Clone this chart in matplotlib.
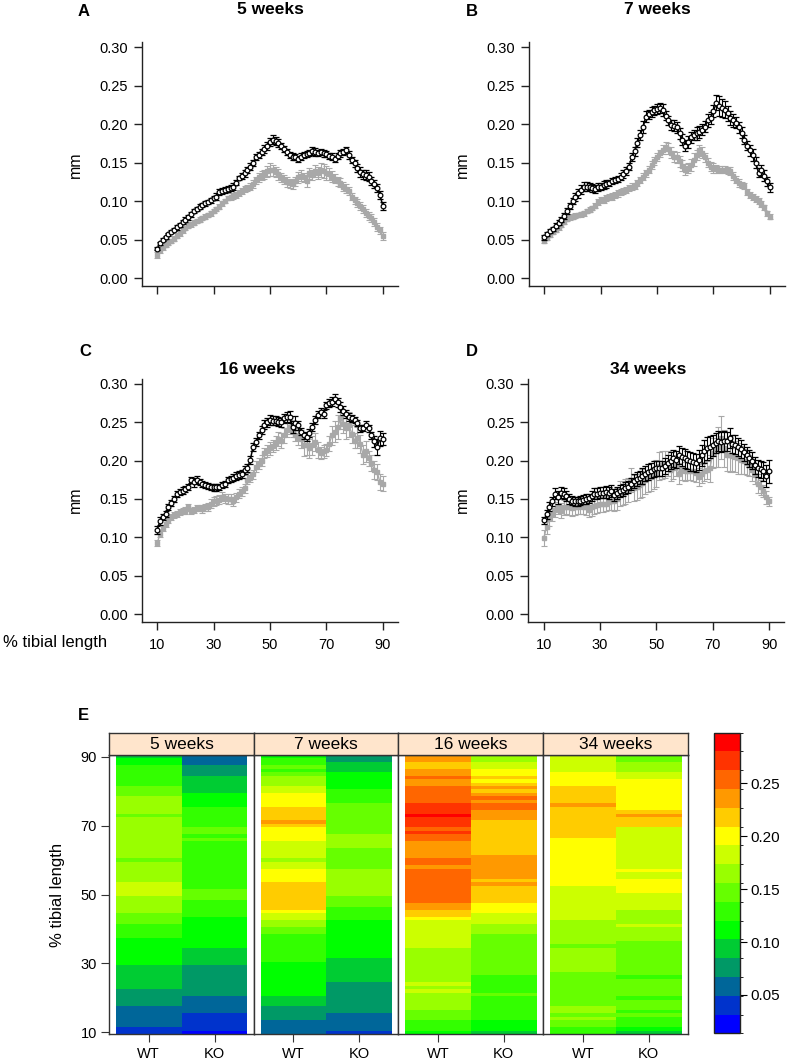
import numpy as np
import matplotlib
matplotlib.use("Agg")
import matplotlib.pyplot as plt
from matplotlib.colors import ListedColormap, BoundaryNorm

plt.rcParams['font.family'] = ['Liberation Sans', 'DejaVu Sans']

# ---- data: mean cortical thickness (mm) at 10..90 % tibial length ----
pct = np.arange(10, 91)
ages = ["5 weeks", "7 weeks", "16 weeks", "34 weeks"]
letters = ["A", "B", "C", "D"]
genotypes = ["WT", "KO"]

wt_5wk = [0.038,0.045,0.050,0.053,0.057,0.060,0.063,0.066,0.069,0.073,
          0.076,0.079,0.083,0.087,0.090,0.093,0.095,0.097,0.099,0.101,
          0.104,0.106,0.112,0.113,0.115,0.116,0.117,0.119,0.124,0.130,
          0.133,0.136,0.140,0.145,0.150,0.157,0.160,0.164,0.168,0.172,
          0.177,0.180,0.178,0.176,0.172,0.168,0.164,0.160,0.158,0.157,
          0.155,0.158,0.160,0.161,0.163,0.165,0.164,0.163,0.164,0.162,
          0.161,0.159,0.158,0.155,0.159,0.162,0.164,0.166,0.160,0.154,
          0.149,0.143,0.138,0.135,0.134,0.132,0.126,0.122,0.117,0.108,
          0.094]
ko_5wk = [0.030,0.036,0.040,0.043,0.046,0.048,0.051,0.055,0.058,0.062,
          0.065,0.068,0.070,0.072,0.074,0.076,0.078,0.080,0.082,0.084,
          0.087,0.090,0.093,0.097,0.100,0.104,0.106,0.107,0.108,0.111,
          0.113,0.116,0.117,0.119,0.122,0.127,0.131,0.133,0.135,0.139,
          0.141,0.140,0.138,0.135,0.131,0.128,0.125,0.123,0.122,0.126,
          0.131,0.133,0.131,0.126,0.136,0.134,0.139,0.137,0.141,0.139,
          0.137,0.135,0.132,0.129,0.126,0.124,0.119,0.116,0.113,0.106,
          0.101,0.098,0.094,0.090,0.085,0.081,0.078,0.073,0.066,0.062,
          0.055]
wt_7wk = [0.053,0.057,0.061,0.064,0.068,0.072,0.076,0.081,0.087,0.094,
          0.100,0.105,0.110,0.115,0.119,0.119,0.119,0.117,0.116,0.118,
          0.119,0.121,0.122,0.124,0.126,0.128,0.129,0.132,0.135,0.139,
          0.145,0.157,0.165,0.176,0.186,0.196,0.210,0.213,0.216,0.218,
          0.220,0.221,0.219,0.211,0.205,0.199,0.198,0.196,0.188,0.180,
          0.172,0.177,0.183,0.186,0.188,0.190,0.193,0.197,0.205,0.208,
          0.217,0.228,0.224,0.221,0.219,0.214,0.208,0.205,0.202,0.196,
          0.189,0.180,0.172,0.166,0.160,0.150,0.137,0.140,0.133,0.126,
          0.118]
ko_7wk = [0.048,0.052,0.056,0.060,0.063,0.066,0.069,0.073,0.077,0.079,
          0.080,0.081,0.082,0.083,0.084,0.087,0.089,0.091,0.094,0.099,
          0.101,0.102,0.104,0.105,0.106,0.108,0.110,0.112,0.113,0.115,
          0.117,0.119,0.120,0.124,0.128,0.132,0.136,0.141,0.147,0.152,
          0.157,0.162,0.167,0.171,0.168,0.163,0.158,0.157,0.152,0.146,
          0.141,0.143,0.147,0.154,0.160,0.166,0.163,0.157,0.150,0.145,
          0.143,0.142,0.141,0.141,0.141,0.140,0.139,0.133,0.128,0.124,
          0.121,0.120,0.112,0.108,0.105,0.103,0.100,0.096,0.092,0.084,
          0.080]
wt_16wk = [0.110,0.121,0.126,0.131,0.140,0.145,0.150,0.157,0.159,0.161,
           0.163,0.166,0.175,0.172,0.175,0.172,0.170,0.168,0.167,0.166,
           0.165,0.165,0.166,0.168,0.170,0.175,0.176,0.178,0.180,0.181,
           0.183,0.188,0.190,0.201,0.218,0.224,0.233,0.240,0.247,0.250,
           0.253,0.252,0.252,0.251,0.250,0.255,0.257,0.257,0.244,0.249,
           0.246,0.238,0.233,0.231,0.236,0.244,0.253,0.260,0.264,0.261,
           0.272,0.275,0.277,0.281,0.276,0.270,0.265,0.261,0.257,0.255,
           0.253,0.249,0.242,0.243,0.247,0.242,0.233,0.225,0.218,0.229,
           0.228]
ko_16wk = [0.093,0.104,0.112,0.118,0.123,0.127,0.129,0.131,0.133,0.134,
           0.135,0.139,0.134,0.136,0.138,0.138,0.137,0.139,0.140,0.144,
           0.147,0.148,0.149,0.153,0.151,0.150,0.150,0.147,0.152,0.157,
           0.160,0.164,0.175,0.178,0.182,0.192,0.196,0.200,0.210,0.213,
           0.216,0.219,0.223,0.228,0.226,0.233,0.240,0.244,0.240,0.234,
           0.230,0.228,0.220,0.220,0.216,0.220,0.224,0.214,0.210,0.212,
           0.214,0.222,0.233,0.238,0.244,0.255,0.248,0.242,0.247,0.235,
           0.226,0.230,0.222,0.208,0.212,0.203,0.197,0.188,0.185,0.172,
           0.170]
wt_34wk = [0.122,0.130,0.140,0.147,0.157,0.152,0.158,0.157,0.154,0.150,
           0.148,0.147,0.147,0.148,0.149,0.150,0.151,0.154,0.157,0.157,
           0.158,0.158,0.159,0.158,0.160,0.155,0.158,0.160,0.162,0.164,
           0.166,0.170,0.173,0.176,0.178,0.180,0.183,0.185,0.187,0.189,
           0.190,0.190,0.190,0.193,0.197,0.200,0.203,0.201,0.207,0.205,
           0.203,0.201,0.199,0.198,0.197,0.201,0.207,0.212,0.216,0.218,
           0.220,0.223,0.226,0.224,0.226,0.225,0.229,0.222,0.221,0.218,
           0.215,0.211,0.207,0.203,0.200,0.194,0.190,0.189,0.186,0.180,
           0.186]
ko_34wk = [0.099,0.114,0.125,0.131,0.136,0.140,0.135,0.139,0.140,0.139,
           0.138,0.139,0.140,0.141,0.140,0.139,0.136,0.140,0.141,0.142,
           0.143,0.143,0.144,0.146,0.148,0.147,0.150,0.157,0.158,0.160,
           0.162,0.175,0.164,0.166,0.168,0.171,0.175,0.177,0.179,0.181,
           0.183,0.193,0.194,0.195,0.196,0.188,0.190,0.194,0.183,0.189,
           0.186,0.187,0.187,0.186,0.184,0.179,0.183,0.186,0.188,0.190,
           0.210,0.214,0.218,0.230,0.216,0.208,0.207,0.206,0.205,0.203,
           0.201,0.199,0.197,0.194,0.188,0.181,0.170,0.165,0.160,0.152,
           0.147]

# standard errors (mm)
sem_wt_5 = [0.002,0.002,0.002,0.002,0.002,0.002,0.002,0.003,0.003,0.003,
            0.003,0.003,0.003,0.003,0.003,0.003,0.003,0.003,0.003,0.003,
            0.003,0.004,0.004,0.004,0.004,0.004,0.004,0.004,0.003,0.003,
            0.004,0.004,0.004,0.004,0.004,0.004,0.004,0.004,0.005,0.005,
            0.005,0.006,0.005,0.005,0.004,0.004,0.004,0.004,0.004,0.004,
            0.004,0.004,0.004,0.004,0.004,0.005,0.005,0.004,0.004,0.004,
            0.004,0.004,0.004,0.004,0.004,0.004,0.004,0.005,0.005,0.004,
            0.004,0.005,0.006,0.006,0.006,0.006,0.005,0.005,0.005,0.005,
            0.005]
sem_ko_5 = [0.004,0.003,0.003,0.003,0.003,0.003,0.003,0.003,0.003,0.003,
            0.003,0.003,0.003,0.003,0.003,0.003,0.003,0.003,0.003,0.003,
            0.003,0.003,0.003,0.003,0.003,0.003,0.004,0.004,0.004,0.004,
            0.004,0.004,0.004,0.004,0.005,0.005,0.006,0.006,0.006,0.007,
            0.008,0.007,0.007,0.007,0.006,0.006,0.006,0.006,0.006,0.006,
            0.007,0.007,0.006,0.008,0.007,0.007,0.008,0.008,0.009,0.009,
            0.009,0.008,0.007,0.006,0.006,0.006,0.006,0.006,0.005,0.005,
            0.005,0.005,0.005,0.005,0.005,0.005,0.005,0.005,0.005,0.005,
            0.005]
sem_wt_7 = [0.003,0.003,0.003,0.003,0.003,0.003,0.003,0.004,0.004,0.004,
            0.004,0.005,0.006,0.006,0.006,0.006,0.005,0.005,0.005,0.005,
            0.005,0.005,0.005,0.004,0.004,0.004,0.004,0.005,0.005,0.005,
            0.005,0.005,0.006,0.006,0.007,0.008,0.007,0.006,0.006,0.006,
            0.007,0.007,0.008,0.006,0.006,0.007,0.007,0.007,0.007,0.007,
            0.007,0.008,0.007,0.007,0.008,0.008,0.007,0.007,0.008,0.008,
            0.008,0.010,0.013,0.012,0.011,0.010,0.009,0.008,0.007,0.007,
            0.007,0.006,0.006,0.007,0.008,0.007,0.006,0.007,0.007,0.006,
            0.006]
sem_ko_7 = [0.003,0.003,0.003,0.003,0.003,0.003,0.003,0.003,0.003,0.003,
            0.003,0.003,0.003,0.003,0.003,0.003,0.003,0.003,0.003,0.004,
            0.004,0.004,0.004,0.004,0.004,0.004,0.004,0.004,0.004,0.004,
            0.004,0.004,0.004,0.004,0.004,0.004,0.004,0.005,0.005,0.005,
            0.005,0.005,0.006,0.006,0.007,0.007,0.007,0.007,0.007,0.007,
            0.007,0.007,0.008,0.008,0.007,0.007,0.007,0.006,0.006,0.006,
            0.006,0.005,0.005,0.005,0.005,0.005,0.005,0.005,0.005,0.005,
            0.004,0.004,0.004,0.004,0.004,0.004,0.004,0.004,0.003,0.003,
            0.003]
sem_wt_16 = [0.005,0.005,0.004,0.004,0.004,0.004,0.004,0.004,0.004,0.004,
             0.004,0.004,0.004,0.006,0.005,0.004,0.004,0.004,0.004,0.004,
             0.004,0.004,0.004,0.004,0.004,0.004,0.004,0.005,0.005,0.005,
             0.005,0.005,0.005,0.005,0.005,0.005,0.005,0.005,0.006,0.006,
             0.006,0.006,0.006,0.006,0.006,0.006,0.006,0.008,0.008,0.009,
             0.006,0.005,0.005,0.005,0.005,0.005,0.005,0.005,0.005,0.005,
             0.005,0.005,0.006,0.006,0.006,0.006,0.006,0.005,0.005,0.005,
             0.004,0.004,0.004,0.004,0.005,0.005,0.005,0.007,0.010,0.010,
             0.008]
sem_ko_16 = [0.004,0.004,0.004,0.004,0.004,0.004,0.004,0.004,0.004,0.004,
             0.004,0.004,0.004,0.004,0.004,0.004,0.005,0.005,0.005,0.006,
             0.006,0.006,0.006,0.006,0.006,0.006,0.006,0.006,0.006,0.006,
             0.006,0.006,0.006,0.006,0.006,0.007,0.007,0.007,0.007,0.008,
             0.008,0.008,0.009,0.009,0.010,0.010,0.009,0.009,0.009,0.009,
             0.010,0.012,0.014,0.012,0.012,0.012,0.012,0.010,0.008,0.008,
             0.008,0.010,0.012,0.014,0.016,0.014,0.012,0.014,0.016,0.012,
             0.010,0.014,0.012,0.012,0.014,0.010,0.010,0.012,0.010,0.010,
             0.010]
sem_wt_34 = [0.005,0.006,0.006,0.006,0.007,0.008,0.007,0.007,0.007,0.006,
             0.006,0.006,0.006,0.006,0.006,0.006,0.006,0.007,0.007,0.007,
             0.007,0.007,0.008,0.008,0.008,0.008,0.008,0.008,0.008,0.008,
             0.008,0.008,0.009,0.009,0.009,0.010,0.010,0.010,0.010,0.010,
             0.010,0.010,0.010,0.010,0.011,0.011,0.011,0.011,0.012,0.012,
             0.012,0.012,0.012,0.012,0.012,0.013,0.014,0.015,0.015,0.014,
             0.014,0.013,0.013,0.013,0.013,0.013,0.013,0.012,0.012,0.012,
             0.012,0.011,0.011,0.011,0.011,0.011,0.011,0.011,0.012,0.014,
             0.015]
sem_ko_34 = [0.010,0.010,0.010,0.010,0.010,0.010,0.010,0.010,0.010,0.010,
             0.010,0.010,0.010,0.010,0.010,0.010,0.010,0.012,0.010,0.010,
             0.010,0.010,0.010,0.010,0.012,0.012,0.014,0.016,0.016,0.016,
             0.016,0.016,0.017,0.017,0.017,0.018,0.018,0.018,0.018,0.018,
             0.018,0.018,0.018,0.018,0.016,0.014,0.014,0.014,0.014,0.014,
             0.012,0.012,0.012,0.012,0.012,0.012,0.012,0.012,0.012,0.018,
             0.020,0.022,0.026,0.028,0.024,0.022,0.022,0.020,0.020,0.020,
             0.018,0.016,0.016,0.014,0.014,0.012,0.012,0.010,0.008,0.008,
             0.006]

wt_means = [wt_5wk, wt_7wk, wt_16wk, wt_34wk]
ko_means = [ko_5wk, ko_7wk, ko_16wk, ko_34wk]
wt_sems = [sem_wt_5, sem_wt_7, sem_wt_16, sem_wt_34]
ko_sems = [sem_ko_5, sem_ko_7, sem_ko_16, sem_ko_34]

y_ticks = [0.00, 0.05, 0.10, 0.15, 0.20, 0.25, 0.30]
x_ticks = [10, 30, 50, 70, 90]
cbar_ticks = [0.05, 0.10, 0.15, 0.20, 0.25]
heat_colors = ["#0000FF", "#0033CC", "#006699", "#009966", "#00CC33", "#00FF00",
               "#33FF00", "#66FF00", "#99FF00", "#CCFF00", "#FFFF00", "#FFCC00",
               "#FF9900", "#FF6600", "#FF3300", "#FF0000"]
heat_levels = np.linspace(0.0138, 0.2978, len(heat_colors) + 1)

W, H = 787, 1063
fig = plt.figure(figsize=(W / 100, H / 100), dpi=100)


def px_axes(x0, y0, x1, y1):
    return fig.add_axes([x0 / W, 1 - y1 / H, (x1 - x0) / W, (y1 - y0) / H])


# ---- panels A-D ----
line_boxes = [(141.7, 42, 398, 285.7), (529, 42, 785, 285.7),
              (141.7, 378.6, 398, 621.7), (528.3, 378.6, 784.3, 621.7)]
title_pos = [(270, 10), (657, 10), (257, 370), (648, 370)]
letter_pos = [(84, 12), (472, 12), (85, 352), (472, 352)]
mm_pos = [(75, 165), (462, 165), (75, 500), (462, 500)]

for i in range(4):
    ax = px_axes(*line_boxes[i])
    ax.errorbar(pct, ko_means[i], yerr=ko_sems[i], color="#a8a8a8", marker="s",
                ms=2.8, lw=1.0, elinewidth=0.8, capsize=2, capthick=0.8, zorder=2)
    ax.errorbar(pct, wt_means[i], yerr=wt_sems[i], color="black", marker="o",
                ms=3.4, mfc="white", mec="black", mew=0.9, lw=1.1,
                elinewidth=0.8, capsize=2, capthick=0.8, zorder=3)
    ax.set_xlim(4.5, 95.4)
    ax.set_ylim(-0.010, 0.307)
    ax.set_yticks(y_ticks)
    ax.set_yticklabels(["%.2f" % v for v in y_ticks])
    ax.set_xticks(x_ticks)
    if i < 2:
        ax.set_xticklabels([])
    else:
        ax.set_xticklabels([str(v) for v in x_ticks])
    for s in ["top", "right"]:
        ax.spines[s].set_visible(False)
    for s in ["left", "bottom"]:
        ax.spines[s].set_linewidth(1.0)
        ax.spines[s].set_color("#222222")
    ax.tick_params(axis="both", direction="out", length=6, width=1.0,
                   color="#222222", labelsize=10.5, pad=4)
    ax.tick_params(axis="x", pad=6)
    fig.text(title_pos[i][0] / W, 1 - title_pos[i][1] / H, ages[i],
             ha="center", va="center", fontsize=12.5, fontweight="bold")
    fig.text(letter_pos[i][0] / W, 1 - letter_pos[i][1] / H, letters[i],
             ha="center", va="center", fontsize=12, fontweight="bold")
    fig.text(mm_pos[i][0] / W, 1 - mm_pos[i][1] / H, "mm", rotation=90,
             ha="center", va="center", fontsize=11.5)

fig.text(3 / W, 1 - 642 / H, "% tibial length", ha="left", va="center",
         fontsize=12)

# ---- panel E: heat map ----
cmap = ListedColormap(heat_colors)
norm = BoundaryNorm(heat_levels, cmap.N)
panel_x = [109.3, 254, 398.3, 543.3, 688.3]
y_edges = np.arange(9.5, 91.5, 1.0)
x_edges = np.array([0.5, 1.5, 2.5])
for i in range(4):
    ax = px_axes(panel_x[i], 755, panel_x[i + 1], 1034)
    data = np.column_stack([wt_means[i], ko_means[i]])
    ax.pcolormesh(x_edges, y_edges, data, cmap=cmap, norm=norm)
    ax.set_xlim(0.4, 2.6)
    ax.set_ylim(9.5, 90.5)
    ax.set_xticks([1, 2])
    ax.set_xticklabels(genotypes)
    if i == 0:
        ax.set_yticks(x_ticks)
        ax.set_yticklabels([str(v) for v in x_ticks])
    else:
        ax.set_yticks([])
    for s in ax.spines.values():
        s.set_linewidth(1.0)
        s.set_color("#333333")
    ax.tick_params(axis="both", direction="out", length=6, width=0.8,
                   color="#333333", labelsize=10.5, pad=3)
    ax.tick_params(axis="x", length=6, pad=3)
    sx = px_axes(panel_x[i], 732.7, panel_x[i + 1], 755)
    sx.set_facecolor("#ffe5cc")
    sx.set_xticks([])
    sx.set_yticks([])
    for s in sx.spines.values():
        s.set_linewidth(1.0)
        s.set_color("#333333")
    sx.text(0.5, 0.45, ages[i], ha="center", va="center", fontsize=12.5,
            transform=sx.transAxes)

fig.text(83 / W, 1 - 716 / H, "E", ha="center", va="center", fontsize=12,
         fontweight="bold")
fig.text(58 / W, 1 - 895 / H, "% tibial length", rotation=90, ha="center",
         va="center", fontsize=12)

cax = px_axes(714, 732.7, 739.7, 1033.3)
sm = plt.cm.ScalarMappable(cmap=cmap, norm=norm)
cb = fig.colorbar(sm, cax=cax)
cb.set_ticks(cbar_ticks)
cb.set_ticklabels(["%.2f" % v for v in cbar_ticks])
cb.outline.set_linewidth(1.0)
cb.outline.set_edgecolor("#222222")
cax.tick_params(direction="out", length=5, width=0.8, labelsize=11, pad=3)

fig.savefig("out.png", dpi=100)
